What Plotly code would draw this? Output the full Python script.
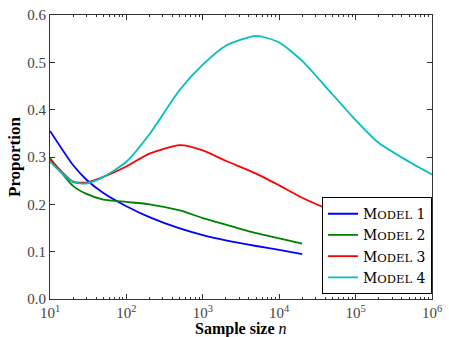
import plotly.graph_objects as go

# sample sizes
n_short = [10, 20, 30, 50, 100, 200, 500, 1000, 2000, 5000, 10000, 20000]
n_red = [10, 20, 30, 50, 100, 200, 500, 1000, 2000, 5000, 10000, 20000, 50000, 100000]
n_long = [10, 20, 30, 50, 100, 200, 500, 1000, 2000, 5000, 10000, 20000,
          50000, 100000, 200000, 500000, 1000000]

model1 = [0.355, 0.283, 0.252, 0.224, 0.196, 0.173, 0.149, 0.135, 0.124, 0.112, 0.104, 0.095]
model2 = [0.298, 0.239, 0.222, 0.210, 0.205, 0.200, 0.187, 0.171, 0.157, 0.139, 0.128, 0.117]
model3 = [0.295, 0.248, 0.246, 0.258, 0.280, 0.307, 0.325, 0.314, 0.292, 0.265, 0.240, 0.214,
          0.186, 0.168]
model4 = [0.290, 0.247, 0.244, 0.258, 0.290, 0.348, 0.442, 0.495, 0.535, 0.556, 0.542, 0.503,
          0.432, 0.378, 0.330, 0.290, 0.263]

names = ["Model 1", "Model 2", "Model 3", "Model 4"]
colors = ["#0000ff", "#008000", "#ff0000", "#00bfbf"]

decades = [10, 100, 1000, 10000, 100000, 1000000]
decade_labels = ["10<sup>1</sup>", "10<sup>2</sup>", "10<sup>3</sup>",
                 "10<sup>4</sup>", "10<sup>5</sup>", "10<sup>6</sup>"]
minor_vals = [m * d for d in decades[:-1] for m in range(2, 10)]


def small_caps(label):
    word, num = label.split(" ")
    return f"{word[0]}<span style='font-size:11.5px'>{word[1:].upper()}</span> {num}"


fig = go.Figure()
for xs, ys, name, col in zip([n_short, n_short, n_red, n_long],
                             [model1, model2, model3, model4], names, colors):
    fig.add_trace(go.Scatter(x=xs, y=ys, mode="lines", name=small_caps(name),
                             line=dict(color=col, width=1.8, shape="spline", smoothing=0.6)))

font = "Liberation Serif, DejaVu Serif, serif"
fig.update_layout(
    width=449, height=337,
    margin=dict(l=50, r=11, t=7, b=38),
    plot_bgcolor="white", paper_bgcolor="white",
    font=dict(family=font, size=15, color="#444"),
    legend=dict(x=1, xanchor="right", y=0.017, yanchor="bottom",
                bordercolor="black", borderwidth=1, bgcolor="white",
                font=dict(family="DejaVu Serif, serif", size=14, color="black"),
                tracegroupgap=0, itemwidth=30),
    showlegend=True,
    annotations=[
        dict(text="<b>Sample size </b><i>n</i>", x=0.5, y=0, xref="paper", yref="paper",
             xanchor="center", yanchor="top", yshift=-19,
             showarrow=False, font=dict(size=16, color="black")),
        dict(text="<b>Proportion</b>", textangle=-90, x=0, xref="paper", y=0.5, yref="paper",
             xanchor="center", yanchor="middle", xshift=-36,
             showarrow=False, font=dict(size=17, color="black")),
    ],
)
fig.update_xaxes(
    type="log", range=[1, 6],
    tickvals=decades, ticktext=decade_labels,
    ticks="inside", ticklen=5, tickcolor="#333",
    minor=dict(tickmode="array", tickvals=minor_vals, ticks="inside", ticklen=2,
               tickcolor="#333"),
    showline=True, linecolor="#333", linewidth=1, mirror="allticks",
    showgrid=False, zeroline=False,
)
fig.update_yaxes(
    range=[0, 0.6], dtick=0.1, tickformat=".1f",
    ticks="inside", ticklen=5, tickcolor="#333",
    showline=True, linecolor="#333", linewidth=1, mirror="allticks",
    showgrid=False, zeroline=False,
)

fig.write_html("out.html", config={"displayModeBar": False},
               post_script="document.body.style.margin='0px';")
